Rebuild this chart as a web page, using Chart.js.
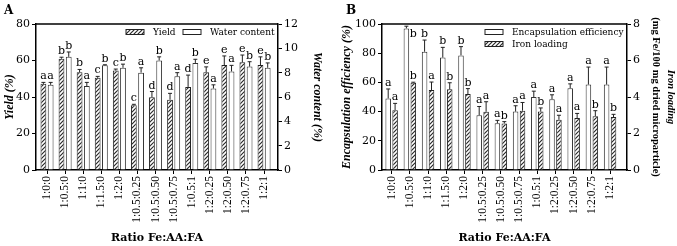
<!DOCTYPE html>
<html>
<head>
<meta charset="utf-8">
<script src="https://cdn.jsdelivr.net/npm/chart.js@4.4.1/dist/chart.umd.min.js"></script>
<style>
  body { margin: 0; background: #fff; width: 677px; height: 246px; overflow: hidden; position: relative; }
  .box { position: absolute; top: 0; height: 246px; }
  #boxA { left: 0; width: 338px; }
  #boxB { left: 338px; width: 339px; }
</style>
</head>
<body>
<div class="box" id="boxA"><canvas id="chartA"></canvas></div>
<div class="box" id="boxB"><canvas id="chartB"></canvas></div>
<script>
const ratios = ["1:0:0", "1:0.5:0", "1:1:0", "1:1.5:0", "1:2:0", "1:0.5:0.25", "1:0.5:0.50",
  "1:0.5:0.75", "1:0.5:1", "1:2:0.25", "1:2:0.50", "1:2:0.75", "1:2:1"];

// panel A
const yieldVals = [47.2, 61, 53.5, 50.5, 54.5, 35.5, 39.8, 38.5, 45.5, 53.5, 57.5, 59, 57.5];
const yieldErr = [0.8, 0.8, 1.6, 0.8, 0.8, 0.5, 3.2, 3.5, 6.5, 3, 5, 4, 4.5];
const yieldLetters = ["a", "b", "b", "c", "c", "c", "d", "d", "d", "e", "e", "e", "e"];
const waterVals = [7.0, 9.3, 6.9, 8.6, 8.4, 8.0, 9.0, 7.7, 8.8, 6.7, 8.1, 8.5, 8.4];
const waterErr = [0.2, 0.4, 0.3, 0.05, 0.3, 0.4, 0.3, 0.3, 0.3, 0.3, 0.5, 0.4, 0.4];
const waterLetters = ["a", "b", "a", "b", "b", "a", "b", "a", "b", "a", "a", "b", "b"];

// panel B
const encapVals = [49, 97, 81, 77, 78.5, 37.5, 32, 40, 50, 48.5, 56, 58.5, 58.5];
const encapErr = [6.5, 1.5, 8, 7, 6, 6, 2, 4, 4, 3, 3, 12, 12];
const encapLetters = ["a", "b", "b", "b", "b", "a", "a", "a", "a", "a", "a", "a", "a"];
const ironVals = [3.28, 4.78, 4.38, 4.42, 4.16, 3.19, 2.55, 3.25, 3.2, 2.75, 2.85, 2.95, 2.9];
const ironErr = [0.37, 0.03, 0.44, 0.36, 0.3, 0.55, 0.1, 0.45, 0.2, 0.25, 0.25, 0.3, 0.15];
const ironLetters = ["a", "b", "a", "b", "b", "a", "b", "a", "b", "a", "a", "b", "b"];

const SERIF = "'DejaVu Serif', serif";
const TIMES = "'Liberation Serif', serif";

function makeHatch() {
  const c = document.createElement("canvas");
  c.width = 4; c.height = 4;
  const g = c.getContext("2d");
  g.fillStyle = "#fff";
  g.fillRect(0, 0, 4, 4);
  g.strokeStyle = "#2a2a2a";
  g.lineWidth = 1.2;
  g.beginPath();
  g.moveTo(0, 4); g.lineTo(4, 0);
  g.moveTo(-1, 1); g.lineTo(1, -1);
  g.moveTo(3, 5); g.lineTo(5, 3);
  g.stroke();
  return g.createPattern(c, "repeat");
}
const hatch = makeHatch();

function points(vals) {
  return vals.map((v, i) => ({ x: i, y: v }));
}

// error bars (upward only) + significance letters
const marks = {
  id: "marks",
  afterDatasetsDraw(chart) {
    const ctx = chart.ctx;
    const area = chart.chartArea;
    ctx.save();
    chart.data.datasets.forEach((ds, d) => {
      const meta = chart.getDatasetMeta(d);
      const scale = chart.scales[ds.yAxisID];
      meta.data.forEach((bar, i) => {
        const top = scale.getPixelForValue(ds.data[i].y + ds.err[i]);
        ctx.strokeStyle = "#222";
        ctx.lineWidth = 1;
        ctx.beginPath();
        ctx.moveTo(bar.x, bar.y);
        ctx.lineTo(bar.x, top);
        ctx.moveTo(bar.x - 2, top);
        ctx.lineTo(bar.x + 2, top);
        ctx.stroke();
        ctx.fillStyle = "#000";
        ctx.font = "11px " + SERIF;
        ctx.textAlign = "center";
        ctx.textBaseline = "alphabetic";
        let lx = bar.x, ly = top - 3;
        if (ly - 8 < area.top) {
          lx = bar.x + 7;
          ly = bar.y + 9;
        }
        ctx.fillText(ds.letters[i], lx, ly);
      });
    });
    ctx.restore();
  },
  afterDraw(chart, args, opts) {
    const ctx = chart.ctx;
    const a = chart.chartArea;
    ctx.save();
    // top frame line
    ctx.strokeStyle = "#000";
    ctx.lineWidth = 1.5;
    ctx.beginPath();
    ctx.moveTo(a.left, a.top);
    ctx.lineTo(a.right, a.top);
    ctx.stroke();
    // panel letter
    ctx.fillStyle = "#000";
    ctx.font = "bold 12px " + SERIF;
    ctx.textAlign = "left";
    ctx.fillText(opts.panel, opts.panelX, 14);
    // legend
    ctx.font = "9px " + SERIF;
    opts.legend.forEach((item) => {
      const ds = chart.data.datasets[item.ds];
      ctx.fillStyle = ds.backgroundColor;
      ctx.fillRect(item.x, item.y - 2.5, 18, 5);
      ctx.strokeStyle = "#222";
      ctx.lineWidth = 1;
      ctx.strokeRect(item.x, item.y - 2.5, 18, 5);
      ctx.fillStyle = "#000";
      ctx.textBaseline = "middle";
      ctx.fillText(ds.label, item.x + 27, item.y + 0.5);
    });
    // two-line right title (panel B)
    if (opts.rightTitle) {
      const cy = (a.top + a.bottom) / 2;
      opts.rightTitle.forEach((t) => {
        ctx.save();
        ctx.translate(t.x, cy);
        ctx.rotate(Math.PI / 2);
        ctx.font = t.font;
        ctx.textAlign = "center";
        ctx.textBaseline = "middle";
        ctx.fillText(t.text, 0, 0);
        ctx.restore();
      });
    }
    ctx.restore();
  }
};

function yAxis(position, max, step, width, title, titlePad) {
  return {
    position: position,
    min: 0,
    max: max,
    ticks: { stepSize: step, color: "#000", padding: 2, font: { family: SERIF, size: 11 } },
    grid: { drawOnChartArea: false, drawTicks: true, tickLength: 4, color: "#000" },
    border: { display: true, color: "#000", width: 1.5 },
    title: title ? {
      display: true, text: title, color: "#000",
      font: { family: TIMES, size: 12, weight: "bold", style: "italic" },
      padding: { top: titlePad, bottom: 0 }
    } : { display: false },
    afterFit(s) { s.width = width; }
  };
}

function xAxis(xmin, xmax) {
  return {
    type: "linear",
    min: xmin,
    max: xmax,
    offset: false,
    afterBuildTicks(s) { s.ticks = ratios.map((r, i) => ({ value: i })); },
    ticks: {
      autoSkip: false, maxRotation: 90, minRotation: 90, padding: 2, color: "#000",
      font: { family: TIMES, size: 11.5 },
      callback: (v) => ratios[v]
    },
    grid: { drawOnChartArea: false, drawTicks: true, tickLength: 4, color: "#000", offset: false },
    border: { display: true, color: "#000", width: 1.5 },
    title: {
      display: true, text: "Ratio Fe:AA:FA", color: "#000",
      font: { family: SERIF, size: 11, weight: "bold" },
      padding: { top: 0, bottom: 1 }
    },
    afterFit(s) { s.height = 76; }
  };
}

new Chart(document.getElementById("chartA"), {
  type: "bar",
  data: {
    datasets: [
      { label: "Yield", data: points(yieldVals), err: yieldErr, letters: yieldLetters, yAxisID: "y",
        backgroundColor: hatch, borderColor: "#222", borderWidth: 1,
        categoryPercentage: 0.8, barPercentage: 0.8 },
      { label: "Water content", data: points(waterVals), err: waterErr, letters: waterLetters, yAxisID: "y2",
        backgroundColor: "#fff", borderColor: "#333", borderWidth: 1,
        categoryPercentage: 0.8, barPercentage: 0.8 }
    ]
  },
  options: {
    responsive: true,
    maintainAspectRatio: false,
    animation: false,
    layout: { padding: { top: 24, left: 0, right: 0, bottom: 0 } },
    plugins: {
      legend: { display: false },
      tooltip: { enabled: false },
      marks: {
        panel: "A", panelX: 4,
        legend: [{ ds: 0, x: 126, y: 32 }, { ds: 1, x: 183, y: 32 }]
      }
    },
    scales: {
      x: xAxis(-0.61, 12.77),
      y: yAxis("left", 80, 20, 36, "Yield (%)", 3),
      y2: yAxis("right", 12, 2, 60, "Water content (%)", 13.3)
    }
  },
  plugins: [marks]
});

new Chart(document.getElementById("chartB"), {
  type: "bar",
  data: {
    datasets: [
      { label: "Encapsulation efficiency", data: points(encapVals), err: encapErr, letters: encapLetters, yAxisID: "y",
        backgroundColor: "#fff", borderColor: "#333", borderWidth: 1,
        categoryPercentage: 0.76, barPercentage: 0.8 },
      { label: "Iron loading", data: points(ironVals), err: ironErr, letters: ironLetters, yAxisID: "y2",
        backgroundColor: hatch, borderColor: "#222", borderWidth: 1,
        categoryPercentage: 0.76, barPercentage: 0.8 }
    ]
  },
  options: {
    responsive: true,
    maintainAspectRatio: false,
    animation: false,
    layout: { padding: { top: 24, left: 0, right: 0, bottom: 0 } },
    plugins: {
      legend: { display: false },
      tooltip: { enabled: false },
      marks: {
        panel: "B", panelX: 8,
        legend: [{ ds: 0, x: 147, y: 32 }, { ds: 1, x: 147, y: 44 }],
        rightTitle: [
          { text: "Iron loading", x: 333, font: "italic bold 10.5px " + TIMES },
          { text: "(mg Fe/100 mg dried microparticle)", x: 318, font: "bold 10.5px " + TIMES }
        ]
      }
    },
    scales: {
      x: xAxis(-0.53, 12.93),
      y: yAxis("left", 100, 20, 44, "Encapsulation efficiency (%)", 2),
      y2: yAxis("right", 8, 2, 50, null, 0)
    }
  },
  plugins: [marks]
});
</script>
</body>
</html>
